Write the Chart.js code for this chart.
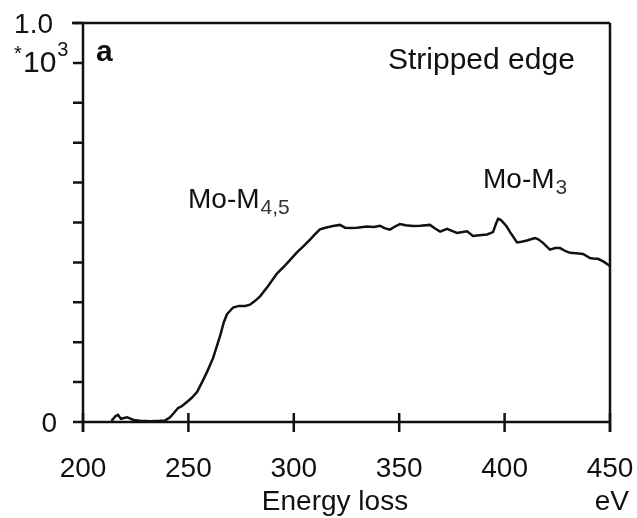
<!DOCTYPE html>
<html>
<head>
<meta charset="utf-8">
<script src="https://cdn.jsdelivr.net/npm/chart.js@4/dist/chart.umd.min.js"></script>
<style>
  html, body { margin: 0; padding: 0; background: #fff; }
  #wrap { width: 637px; height: 518px; position: relative; }
</style>
</head>
<body>
<div id="wrap"><canvas id="spectrum"></canvas></div>
<script>
// energy loss (eV) and stripped-edge intensity (x 10^3 counts)
const energy = [213.5, 215.5, 216.6, 218, 220.9, 224, 227, 232, 236.5, 239, 241.3, 243, 245.1, 247, 249.3,
  251.5, 254.1, 256.5, 258.8, 261.7, 263.5, 265, 266.8, 268.3, 271.2, 274, 277, 279.2, 281.5, 284, 288, 292,
  296, 301.5, 304.5, 307.7, 310, 312.4, 315, 318.6, 321.9, 324.3, 327, 330, 334.7, 338, 340.9, 343, 345.6,
  348, 350.4, 353, 356.5, 360, 364.6, 367, 369.4, 372.7, 375, 377.4, 380, 382.2, 385, 388, 391.7, 394.5, 396,
  396.9, 398, 399.2, 401, 402.6, 405.9, 408, 410.6, 414.4, 416, 418.2, 421.5, 424, 426.3, 429, 431, 434,
  437.2, 440.5, 442, 444.3, 447, 450];
const intensity = [0.003, 0.015, 0.018, 0.008, 0.012, 0.005, 0.003, 0.002, 0.003, 0.004, 0.012, 0.022, 0.035,
  0.04, 0.05, 0.06, 0.075, 0.1, 0.125, 0.16, 0.19, 0.215, 0.25, 0.27, 0.287, 0.291, 0.291, 0.294, 0.303, 0.315,
  0.342, 0.372, 0.393, 0.425, 0.44, 0.457, 0.47, 0.483, 0.487, 0.491, 0.494, 0.487, 0.486, 0.487, 0.49, 0.489,
  0.492, 0.486, 0.482, 0.49, 0.496, 0.493, 0.491, 0.492, 0.494, 0.485, 0.477, 0.484, 0.479, 0.474, 0.476,
  0.478, 0.466, 0.468, 0.47, 0.476, 0.498, 0.509, 0.507, 0.501, 0.49, 0.476, 0.45, 0.452, 0.455, 0.461,
  0.458, 0.449, 0.432, 0.436, 0.436, 0.428, 0.424, 0.423, 0.421, 0.411, 0.41, 0.409, 0.402, 0.391];

const xTicks = [200, 250, 300, 350, 400, 450];
const yTicks = [0, 0.1, 0.2, 0.3, 0.4, 0.5, 0.6, 0.7, 0.8, 0.9, 1.0];
const yLabels = { 0: '0', 1: '1.0' };

const FONT = '"Liberation Sans", Arial, Helvetica, sans-serif';

const axesPlugin = {
  id: 'axes',
  afterDraw(chart) {
    const ctx = chart.ctx;
    const xs = chart.scales.x;
    const ys = chart.scales.y;
    const left = xs.getPixelForValue(200);
    const right = xs.getPixelForValue(450);
    const top = ys.getPixelForValue(1);
    const bottom = ys.getPixelForValue(0);

    ctx.save();
    ctx.strokeStyle = '#111';
    ctx.lineWidth = 2.5;
    ctx.lineCap = 'butt';

    // frame: left, bottom, right axes and top line
    ctx.beginPath();
    ctx.moveTo(left, top);
    ctx.lineTo(left, bottom + 10);
    ctx.moveTo(left, bottom);
    ctx.lineTo(right, bottom);
    ctx.moveTo(right, top);
    ctx.lineTo(right, bottom + 10);
    ctx.moveTo(left - 11, top);
    ctx.lineTo(right, top);
    ctx.stroke();

    // y ticks (outside)
    ctx.beginPath();
    yTicks.forEach(v => {
      const y = ys.getPixelForValue(v);
      ctx.moveTo(left - 10, y);
      ctx.lineTo(left, y);
    });
    // x ticks (crossing)
    xTicks.forEach(v => {
      const x = xs.getPixelForValue(v);
      ctx.moveTo(x, bottom - 9);
      ctx.lineTo(x, bottom + 10);
    });
    ctx.stroke();

    ctx.fillStyle = '#111';
    ctx.font = '28px ' + FONT;
    ctx.textBaseline = 'alphabetic';

    // x tick labels
    ctx.textAlign = 'center';
    xTicks.forEach(v => {
      ctx.fillText(String(v), xs.getPixelForValue(v), 477);
    });

    // y tick labels
    ctx.textAlign = 'right';
    ctx.fillText(yLabels[0], 57, bottom + 10);
    ctx.fillText(yLabels[1], 53, 33);

    // *10^3 multiplier
    ctx.textAlign = 'left';
    ctx.font = '30px ' + FONT;
    ctx.fillText('10', 23, 72);
    const tenW = ctx.measureText('10').width;
    ctx.font = '20px ' + FONT;
    ctx.fillText('*', 14, 60);
    ctx.fillText('3', 23 + tenW + 1, 56);

    // axis titles
    ctx.font = '28px ' + FONT;
    ctx.textAlign = 'center';
    ctx.fillText('Energy loss', 335, 510);
    ctx.textAlign = 'right';
    ctx.fillText('eV', 629, 510);

    // panel letter and title
    ctx.textAlign = 'left';
    ctx.font = 'bold 30px ' + FONT;
    ctx.fillText('a', 96, 61);
    ctx.font = '30px ' + FONT;
    ctx.fillText('Stripped edge', 388, 69);

    // edge labels with subscripts
    const edgeLabel = (x, y, main, sub) => {
      ctx.font = '28px ' + FONT;
      ctx.fillText(main, x, y);
      const w = ctx.measureText(main).width;
      ctx.font = '21px ' + FONT;
      ctx.fillStyle = '#333';
      ctx.fillText(sub, x + w + 1, y + 6);
      ctx.fillStyle = '#111';
    };
    edgeLabel(188, 208, 'Mo-M', '4,5');
    edgeLabel(483, 188, 'Mo-M', '3');

    ctx.restore();
  }
};

new Chart(document.getElementById('spectrum'), {
  type: 'scatter',
  data: {
    datasets: [{
      data: energy.map((e, i) => ({ x: e, y: intensity[i] })),
      showLine: true,
      borderColor: '#111',
      borderWidth: 2.5,
      pointRadius: 0,
      tension: 0,
      clip: false
    }]
  },
  options: {
    responsive: true,
    maintainAspectRatio: false,
    animation: false,
    layout: { padding: { left: 83, right: 27, top: 23, bottom: 96 } },
    plugins: { legend: { display: false }, tooltip: { enabled: false } },
    scales: {
      x: { type: 'linear', min: 200, max: 450, display: false },
      y: { type: 'linear', min: 0, max: 1, display: false }
    }
  },
  plugins: [axesPlugin]
});
</script>
</body>
</html>
